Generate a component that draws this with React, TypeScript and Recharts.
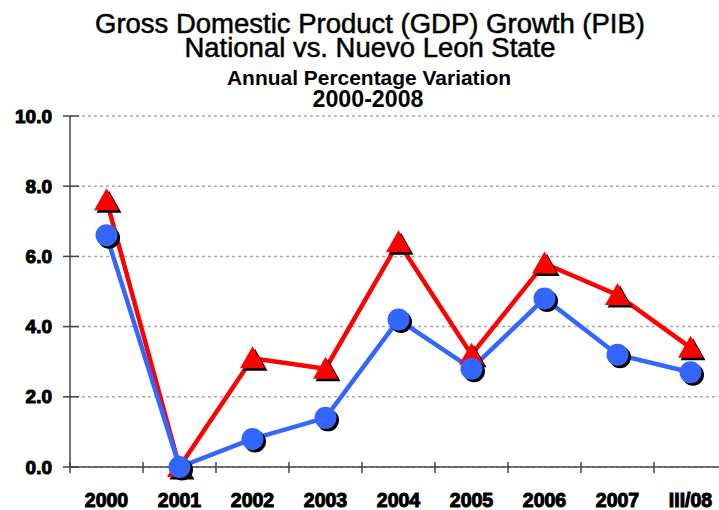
import { LineChart, Line, XAxis, YAxis, CartesianGrid } from "recharts";

const categories = ["2000", "2001", "2002", "2003", "2004", "2005", "2006", "2007", "III/08"];
const nuevoLeon = [7.6, 0.0, 3.1, 2.8, 6.4, 3.2, 5.8, 4.9, 3.4];
const national = [6.6, 0.0, 0.8, 1.4, 4.2, 2.8, 4.8, 3.2, 2.7];
const yTicks = [0, 2, 4, 6, 8, 10];

const data = categories.map((c, i) => ({ c, nl: nuevoLeon[i], nat: national[i] }));

const W = 735;
const H = 510;
const LEFT = 70;
const RIGHT = 8;
const TOP = 116;
const BOTTOM = 43;
const BAND = (W - LEFT - RIGHT) / categories.length;

const font = "'Liberation Sans', Arial, sans-serif";

function XTick({ x, y, payload }: any) {
  return (
    <g>
      <line x1={x - BAND / 2} x2={x - BAND / 2} y1={y - 5} y2={y + 6} stroke="#444" strokeWidth={1.5} />
      <text
        x={x}
        y={y + 40}
        textAnchor="middle"
        fontFamily={font}
        fontWeight="bold"
        fontSize={19.5}
        fill="#000"
        stroke="#000"
        strokeWidth={1}
      >
        {payload.value}
      </text>
    </g>
  );
}

function YTick({ x, y, payload }: any) {
  return (
    <g>
      <line x1={x - 7} x2={x + 9} y1={y} y2={y} stroke="#444" strokeWidth={1.5} />
      <text
        x={x - 18}
        y={y + 6.5}
        textAnchor="end"
        fontFamily={font}
        fontWeight="bold"
        fontSize={19}
        fill="#000"
        stroke="#000"
        strokeWidth={1}
      >
        {Number(payload.value).toFixed(1)}
      </text>
    </g>
  );
}

function CircleDot({ cx, cy }: any) {
  if (cx == null || cy == null) return null;
  return (
    <g>
      <circle cx={cx + 2.5} cy={cy + 2.5} r={11} fill="#000" />
      <circle cx={cx} cy={cy} r={11} fill="#3366ff" />
    </g>
  );
}

function TriangleDot({ cx, cy }: any) {
  if (cx == null || cy == null) return null;
  const pts = (dx: number, dy: number) =>
    `${cx + dx},${cy - 12 + dy} ${cx - 12.5 + dx},${cy + 10 + dy} ${cx + 12.5 + dx},${cy + 10 + dy}`;
  return (
    <g>
      <polygon points={pts(2.5, 2.5)} fill="#000" />
      <polygon points={pts(0, 0)} fill="#ff0000" />
    </g>
  );
}

function Title() {
  return (
    <svg width={719} height={115} style={{ position: "absolute", left: 0, top: 0 }}>
      <g fontFamily={font} fill="#000" textAnchor="middle">
        <text x={370} y={33} fontSize={27} stroke="#000" strokeWidth={0.5} textLength={550} lengthAdjust="spacingAndGlyphs">
          Gross Domestic Product (GDP) Growth (PIB)
        </text>
        <text x={370} y={57} fontSize={27} stroke="#000" strokeWidth={0.5} textLength={371} lengthAdjust="spacingAndGlyphs">
          National vs. Nuevo Leon State
        </text>
        <text x={369} y={85} fontSize={19.5} fontWeight="bold" textLength={284} lengthAdjust="spacingAndGlyphs">
          Annual Percentage Variation
        </text>
        <text x={368} y={107} fontSize={23} fontWeight="bold" textLength={111} lengthAdjust="spacingAndGlyphs">
          2000-2008
        </text>
      </g>
    </svg>
  );
}

export default function App() {
  return (
    <div
      style={{
        position: "absolute",
        left: 0,
        top: 0,
        width: 719,
        height: 510,
        overflow: "hidden",
        background: "#fff",
      }}
    >
      <LineChart width={W} height={H} data={data} margin={{ top: TOP, right: RIGHT, bottom: 0, left: 0 }}>
        <CartesianGrid vertical={false} stroke="#aaa" strokeDasharray="3 3" strokeWidth={1.5} />
        <XAxis
          dataKey="c"
          height={BOTTOM}
          tickLine={false}
          tickSize={0}
          tickMargin={0}
          stroke="#444"
          strokeWidth={1.5}
          interval={0}
          padding={{ left: BAND / 2, right: BAND / 2 }}
          tick={(p: any) => <XTick {...p} />}
        />
        <YAxis
          width={LEFT}
          domain={[0, 10]}
          ticks={yTicks}
          tickLine={false}
          tickSize={0}
          tickMargin={0}
          stroke="#444"
          strokeWidth={1.5}
          tick={(p: any) => <YTick {...p} />}
        />
        <Line
          dataKey="nl"
          stroke="#ff0000"
          strokeWidth={4.5}
          dot={(p: any) => <TriangleDot key={"t" + p.index} {...p} />}
          isAnimationActive={false}
        />
        <Line
          dataKey="nat"
          stroke="#3366ff"
          strokeWidth={4.5}
          dot={(p: any) => <CircleDot key={"c" + p.index} {...p} />}
          isAnimationActive={false}
        />
      </LineChart>
      <Title />
    </div>
  );
}
